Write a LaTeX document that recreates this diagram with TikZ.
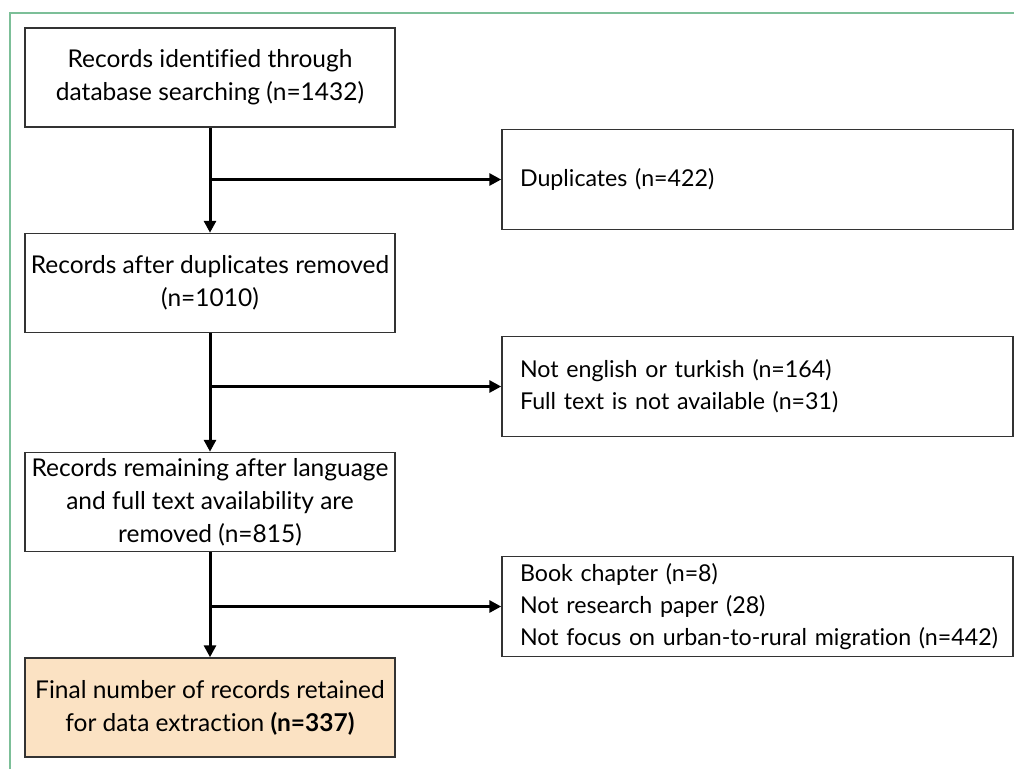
\documentclass[tikz,border=0pt]{standalone}
\usepackage{fontspec}
\setmainfont{Lato}[Ligatures=NoCommon]
\usetikzlibrary{arrows.meta}

\definecolor{framegreen}{HTML}{7CBF98}
\definecolor{finalfill}{HTML}{FBE2C3}
\definecolor{boxline}{HTML}{333333}

\tikzset{
	mainbox/.style={draw=boxline, line width=1.5pt, fill=white, minimum width=370pt,
		minimum height=99pt, inner xsep=3pt, inner ysep=0pt, align=center,
		font=\fontsize{24.5}{33}\selectfont},
	sidebox/.style={draw=boxline, line width=1.5pt, fill=white, text width=475pt,
		inner xsep=18pt, inner ysep=0pt, minimum height=100pt, align=left,
		font=\fontsize{23.2}{32}\selectfont},
	flow/.style={-{Triangle[length=12pt, width=12pt]}, line width=3pt, black}
}

\begin{document}
\begin{tikzpicture}[x=1pt, y=-1pt]

\useasboundingbox (0, 0) rectangle (1014, 769);
\draw[framegreen, line width=2pt] (10, 769) -- (10, 13) -- (1014, 13);

% stages on the left
\node[mainbox] (b1) at (210, 77.5) {Records identified through\\database searching (n=1432)};
\node[mainbox] (b2) at (210, 283) {Records after duplicates removed\\(n=1010)};
\node[mainbox] (b3) at (210, 502) {Records remaining after language\\and full text availability are\\removed (n=815)};
\node[mainbox, fill=finalfill] (b4) at (210, 707.5) {Final number of records retained\\for data extraction \textbf{(n=337)}};

% exclusions on the right
\node[sidebox] (d1) at (757.5, 179.5) {Duplicates (n=422)};
\node[sidebox] (d2) at (757.5, 386.5) {Not english or turkish (n=164)\\Full text is not available (n=31)};
\node[sidebox] (d3) at (757.5, 606.5) {Book chapter (n=8)\\Not research paper (28)\\\mbox{Not focus on urban-to-rural migration (n=442)}};

\foreach \a/\b in {b1/b2, b2/b3, b3/b4}
	\draw[flow] (\a) -- (\b);
\foreach \a/\d in {b1/d1, b2/d2, b3/d3}
	\draw[flow] (\a.south |- \d.west) -- (\d.west);

\end{tikzpicture}
\end{document}
